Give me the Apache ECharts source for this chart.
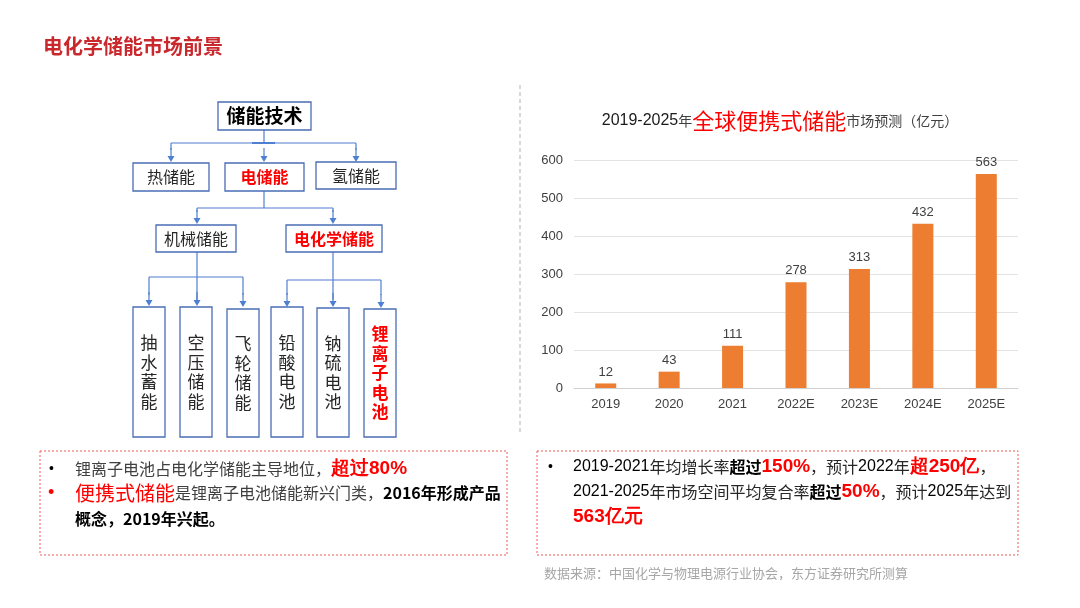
<!DOCTYPE html>
<html>
<head>
<meta charset="utf-8">
<script src="https://cdn.jsdelivr.net/npm/echarts@6/dist/echarts.min.js"></script>
<style>
html,body{margin:0;padding:0;background:#fff;}
#main{width:1080px;height:608px;}
</style>
</head>
<body>
<div id="main"></div>
<script>
// 柱状图数据
var years = ['2019', '2020', '2021', '2022E', '2023E', '2024E', '2025E'];
var marketSize = [12, 43, 111, 278, 313, 432, 563];
var yMin = 0, yMax = 600, yStep = 100;

// 储能技术分类
var rootLabel = '储能技术';
var level1 = ['热储能', '电储能', '氢储能'];
var level2 = ['机械储能', '电化学储能'];
var level3 = ['抽水蓄能', '空压储能', '飞轮储能', '铅酸电池', '钠硫电池', '锂离子电池'];
var highlight = ['电储能', '电化学储能', '锂离子电池'];

var CJK = '"Noto Sans CJK SC", sans-serif';
var LAT = '"Liberation Sans", Arial, sans-serif';
var boxColor = '#4a6db5', lineColor = '#4f7fd0';

var graphics = [];

//画框+文字
function box(x, y, w, h, label, size, vertical, bold) {
	var hl = highlight.indexOf(label) >= 0;
	graphics.push({
		type: 'rect', silent: true,
		shape: { x: x, y: y, width: w, height: h },
		style: { fill: '#fff', stroke: boxColor, lineWidth: 1.3 }
	});
	graphics.push({
		type: 'text', silent: true,
		style: {
			text: vertical ? label.split('').join('\n') : label,
			x: x + w / 2, y: y + h / 2,
			align: 'center', verticalAlign: 'middle',
			fontSize: size, lineHeight: vertical ? 19.5 : size + 2,
			fontFamily: CJK,
			fontWeight: (hl || bold) ? 'bold' : 'normal',
			fill: hl ? '#ff0000' : (bold ? '#000' : '#262626')
		}
	});
}
function line(pts, w) {
	graphics.push({
		type: 'polyline', silent: true,
		shape: { points: pts },
		style: { stroke: lineColor, lineWidth: w || 1.2, fill: null }
	});
}
function arrow(x, y) {
	line([[x, y - 14], [x, y - 5]]);
	graphics.push({
		type: 'polygon', silent: true,
		shape: { points: [[x - 3.5, y - 6], [x + 3.5, y - 6], [x, y]] },
		style: { fill: lineColor }
	});
}

// 连线
line([[264, 130], [264, 143]]);
line([[171, 143], [356, 143]]);
line([[252, 143], [275, 143]], 2);
arrow(171, 162); arrow(264, 162); arrow(356, 162);
line([[171, 143], [171, 150]]); line([[356, 143], [356, 150]]);

line([[264, 191], [264, 208]]);
line([[197, 208], [333, 208]]);
line([[197, 208], [197, 212]]); line([[333, 208], [333, 212]]);
arrow(197, 224); arrow(333, 224);

line([[197, 252], [197, 300]]);
line([[149, 277], [243, 277]]);
line([[149, 277], [149, 295]]); line([[243, 277], [243, 295]]);
arrow(149, 306); arrow(197, 306); arrow(243, 307);

line([[333, 252], [333, 300]]);
line([[287, 280], [381, 280]]);
line([[287, 280], [287, 295]]); line([[381, 280], [381, 295]]);
arrow(287, 307); arrow(333, 307); arrow(381, 308);

// 框
box(218, 102, 93, 28, rootLabel, 19, false, true);
box(133, 163, 76, 28, level1[0], 16);
box(225, 163, 79, 28, level1[1], 16);
box(316, 162, 80, 27, level1[2], 16);
box(156, 225, 80, 27, level2[0], 16);
box(286, 225, 96, 27, level2[1], 16);
var l3x = [133, 180, 227, 271, 317, 364];
var l3y = [307, 307, 309, 307, 308, 309];
for (var i = 0; i < level3.length; i++) {
	box(l3x[i], l3y[i], 32, 437 - l3y[i], level3[i], 17, true);
}

// 分隔虚线
graphics.push({
	type: 'line', silent: true,
	shape: { x1: 520, y1: 85, x2: 520, y2: 435 },
	style: { stroke: '#bfbfbf', lineWidth: 1.2, lineDash: [4, 3] }
});

// 页标题
graphics.push({
	type: 'text', silent: true,
	style: { text: '电化学储能市场前景', x: 43, y: 46, verticalAlign: 'middle',
		fontSize: 20, fontFamily: CJK, fontWeight: 'bold', fill: '#c9282d' }
});

// 图表标题
graphics.push({
	type: 'text', silent: true,
	style: {
		text: '{d|2019-2025}{s|年}{r|全球便携式储能}{s|市场预测（亿元）}',
		x: 780, y: 121, align: 'center', verticalAlign: 'middle',
		rich: {
			d: { fontSize: 16, fontFamily: LAT, fill: '#1a1a1a' },
			s: { fontSize: 14, fontFamily: CJK, fill: '#404040' },
			r: { fontSize: 22, fontFamily: CJK, fill: '#ff0000' }
		}
	}
});

// 文本框
function dashBox(x, y, w, h) {
	graphics.push({
		type: 'rect', silent: true,
		shape: { x: x, y: y, width: w, height: h },
		style: { fill: null, stroke: '#f05a5a', lineWidth: 1, lineDash: [2, 2] }
	});
}
function txt(x, y, s, rich) {
	graphics.push({
		type: 'text', silent: true,
		style: { text: s, x: x, y: y, verticalAlign: 'middle', rich: rich }
	});
}
dashBox(40, 451, 467, 104);
dashBox(537, 451, 481, 104);

var richL = {
	dot: { fontSize: 14, fontFamily: LAT, fill: '#000' },
	rdot: { fontSize: 18, fontFamily: LAT, fill: '#ff0000' },
	n: { fontSize: 16, fontFamily: CJK, fill: '#404040' },
	r: { fontSize: 19, fontFamily: LAT, fontWeight: 'bold', fill: '#ff0000' },
	rr: { fontSize: 20, fontFamily: CJK, fill: '#ff0000' },
	b: { fontSize: 16, fontFamily: CJK, fontWeight: 'bold', fill: '#000' }
};
txt(49, 469, '{dot|•}', richL);
txt(48, 493, '{rdot|•}', richL);
txt(75, 469, '{n|锂离子电池占电化学储能主导地位，}{r|超过80%}', richL);
txt(75, 493, '{rr|便携式储能}{n|是锂离子电池储能新兴门类，}{b|2016年形成产品}', richL);
txt(75, 519, '{b|概念，2019年兴起。}', richL);

var richR = {
	dot: { fontSize: 14, fontFamily: LAT, fill: '#000' },
	d: { fontSize: 16, fontFamily: LAT, fill: '#000' },
	n: { fontSize: 16, fontFamily: CJK, fill: '#262626' },
	k: { fontSize: 16, fontFamily: CJK, fontWeight: 'bold', fill: '#000' },
	r: { fontSize: 19, fontFamily: LAT, fontWeight: 'bold', fill: '#ff0000' }
};
txt(548, 467, '{dot|•}', richR);
txt(573, 467, '{d|2019-2021}{n|年均增长率}{k|超过}{r|150%}{n|，预计}{d|2022}{n|年}{r|超250亿}{n|，}', richR);
txt(573, 492, '{d|2021-2025}{n|年市场空间平均复合率}{k|超过}{r|50%}{n|，预计}{d|2025}{n|年达到}', richR);
txt(573, 517, '{r|563亿元}', richR);

// 数据来源
graphics.push({
	type: 'text', silent: true,
	style: { text: '数据来源：中国化学与物理电源行业协会，东方证券研究所测算', x: 544, y: 573,
		verticalAlign: 'middle', fontSize: 13, fontFamily: CJK, fill: '#a6a6a6' }
});

var option = {
	backgroundColor: '#fff',
	animation: false,
	grid: { left: 574, right: 62, top: 160, bottom: 220 },
	xAxis: {
		type: 'category',
		data: years,
		axisTick: { show: false },
		axisLine: { lineStyle: { color: '#d0d0d0' } },
		axisLabel: { fontSize: 13, color: '#404040', fontFamily: LAT, margin: 10 }
	},
	yAxis: {
		type: 'value',
		min: yMin, max: yMax, interval: yStep,
		axisLine: { show: false },
		axisTick: { show: false },
		axisLabel: { fontSize: 13, color: '#404040', fontFamily: LAT, margin: 11 },
		splitLine: { lineStyle: { color: '#e3e3e3' } }
	},
	series: [{
		type: 'bar',
		data: marketSize,
		barWidth: 21,
		itemStyle: { color: '#ed7d31' },
		label: { show: true, position: 'top', distance: 5, fontSize: 13, color: '#404040', fontFamily: LAT }
	}],
	graphic: graphics
};

var myChart = echarts.init(document.getElementById('main'));
myChart.setOption(option);
</script>
</body>
</html>
